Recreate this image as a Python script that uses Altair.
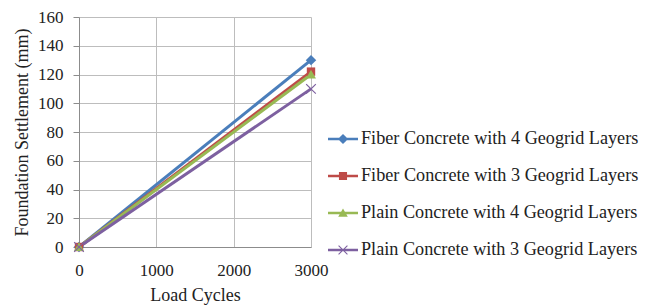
import altair as alt
import pandas as pd

series = [
    "Fiber Concrete with 4 Geogrid Layers",
    "Fiber Concrete with 3 Geogrid Layers",
    "Plain Concrete with 4 Geogrid Layers",
    "Plain Concrete with 3 Geogrid Layers",
]
cycles = [0, 3000]
fiber4 = [0, 130]
fiber3 = [0, 122]
plain4 = [0, 120]
plain3 = [0, 110]
colors = ["#4a7ebb", "#be4b48", "#98b954", "#7d60a0"]

rows = []
for name, vals in zip(series, [fiber4, fiber3, plain4, plain3]):
    for c, v in zip(cycles, vals):
        rows.append({"series": name, "cycles": c, "settlement": v})
df = pd.DataFrame(rows)

# marker shapes (unit coords), for plot
diamond = "M0,-1L1,0L0,1L-1,0Z"
square = "M-0.8,-0.8H0.8V0.8H-0.8Z"
triangle = "M0,-0.9L0.95,0.75H-0.95Z"
cross = ("M-1,-0.85L-0.85,-1L0,-0.15L0.85,-1L1,-0.85L0.15,0L1,0.85L0.85,1L0,0.15"
         "L-0.85,1L-1,0.85L-0.15,0Z")
markers = [diamond, square, triangle, cross]

# legend symbols: horizontal line + marker
bar = "M-1,-0.09H1V0.09H-1Z"
leg_diamond = bar + "M0,-0.34L0.34,0L0,0.34L-0.34,0Z"
leg_square = bar + "M-0.27,-0.27H0.27V0.27H-0.27Z"
leg_triangle = bar + "M0,-0.3L0.32,0.25H-0.32Z"
leg_cross = bar + ("M-0.32,-0.27L-0.27,-0.32L0,-0.05L0.27,-0.32L0.32,-0.27L0.05,0L0.32,0.27L0.27,0.32L0,0.05"
                   "L-0.27,0.32L-0.32,0.27L-0.05,0Z")

font = "Liberation Serif"

x = alt.X("cycles:Q", title="Load Cycles",
          scale=alt.Scale(domain=[0, 3000], nice=False),
          axis=alt.Axis(values=[0, 1000, 2000, 3000], format="d", ticks=False,
                        labelFlush=False, labelPadding=15, titlePadding=8))
y = alt.Y("settlement:Q", title="Foundation Settlement (mm)",
          scale=alt.Scale(domain=[0, 160], nice=False),
          axis=alt.Axis(values=list(range(0, 161, 20)), tickSize=6,
                        labelPadding=10, titlePadding=6))

layers = []
for name, c in zip(series, colors):
    layers.append(
        alt.Chart(df).transform_filter(alt.datum.series == name)
        .mark_line(strokeWidth=3, color=c)
        .encode(x=x, y=y)
    )
for name, shp, c in zip(series, markers, colors):
    layers.append(
        alt.Chart(df).transform_filter(alt.datum.series == name)
        .mark_point(filled=True, size=110, opacity=1, shape=shp, color=c)
        .encode(x=x, y=y)
    )

leg = alt.Legend(title=None, orient="none", legendX=248, legendY=106,
                 symbolSize=900, symbolOpacity=1, rowPadding=12,
                 labelOffset=2, labelFont=font, labelFontSize=18.2,
                 labelColor="#222222", labelLimit=400, padding=0)

legend_layer = alt.Chart(df).mark_point(filled=True, opacity=0).encode(
    x=x, y=y,
    color=alt.Color("series:N", scale=alt.Scale(domain=series, range=colors), legend=leg),
    shape=alt.Shape("series:N", scale=alt.Scale(domain=series,
                                                range=[leg_diamond, leg_square, leg_triangle, leg_cross]),
                    legend=leg),
)
layers.append(legend_layer)

chart = alt.layer(*layers).properties(
    width=232, height=230,
    padding={"left": 5, "top": 0, "right": 0, "bottom": 5},
).configure_view(stroke=None).configure_axis(
    labelFont=font, titleFont=font, labelFontSize=17, titleFontSize=18,
    labelColor="#222222", titleColor="#222222", titleFontWeight="normal",
    gridColor="#bdbdbd", domainColor="#8c8c8c", tickColor="#8c8c8c",
    gridWidth=1, domainWidth=1,
)

chart.save("out.html", embed_options={"renderer": "svg", "actions": False})
